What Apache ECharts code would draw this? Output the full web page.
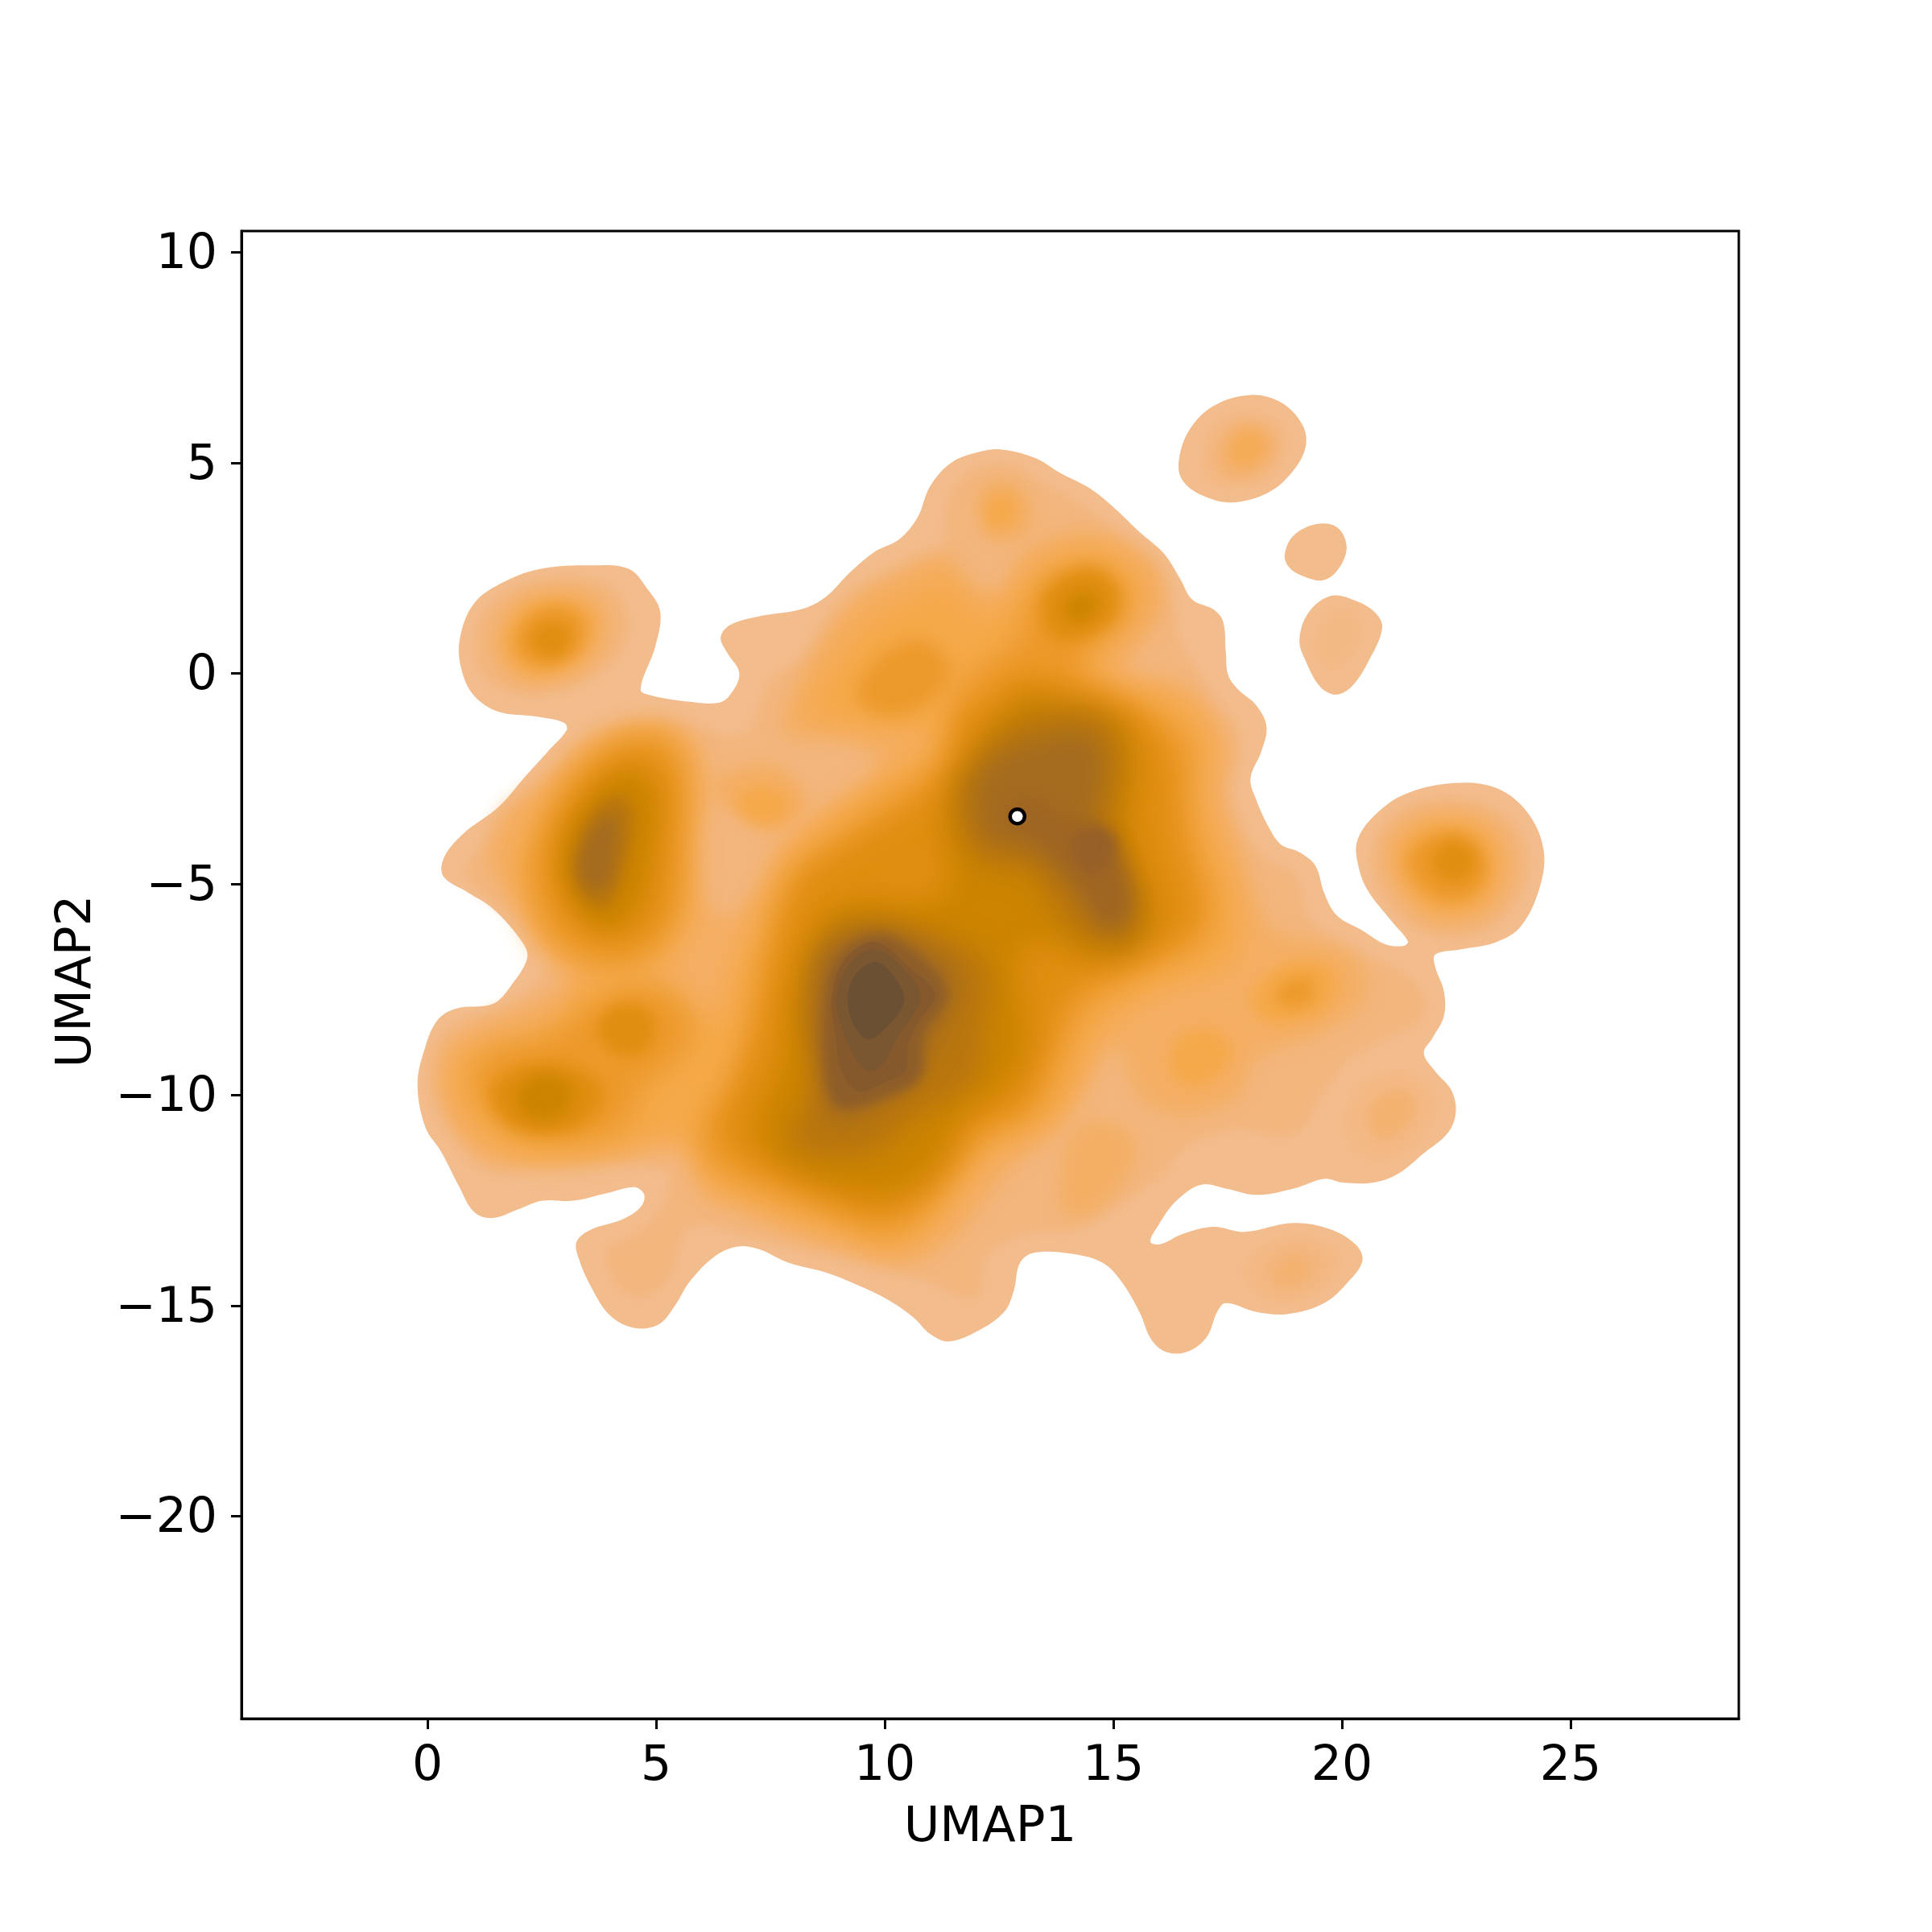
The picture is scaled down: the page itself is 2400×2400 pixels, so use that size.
<!DOCTYPE html>
<html><head><meta charset="utf-8">
<style>html,body{margin:0;background:#fff}#c{width:2400px;height:2400px}</style>
<script src="https://cdn.jsdelivr.net/npm/echarts@6/dist/echarts.min.js"></script>
</head><body><div id="c"></div>
<script>
const xTicks=[0,5,10,15,20,25];
const yTicks=[-20,-15,-10,-5,0,5,10];
const refPoint=[12.90,-3.39];
// density contours, in UMAP units
const outerMain=[[12.53,5.32],[13.28,5.12],[13.87,4.74],[14.49,4.39],[15.03,3.92],[15.57,3.36],[16.11,2.84],[16.46,2.25],[16.73,1.75],[17.19,1.52],[17.40,1.23],[17.46,0.50],[17.51,-0.03],[17.73,-0.38],[18.13,-0.76],[18.35,-1.26],[18.24,-1.84],[18.00,-2.49],[18.13,-3.01],[18.40,-3.65],[18.67,-4.06],[19.07,-4.24],[19.42,-4.56],[19.61,-5.20],[19.88,-5.73],[20.42,-6.08],[20.96,-6.43],[21.36,-6.46],[21.44,-6.35],[21.09,-5.88],[20.55,-5.12],[20.34,-4.47],[20.34,-3.95],[20.69,-3.39],[21.36,-2.87],[22.44,-2.60],[23.38,-2.72],[24.06,-3.30],[24.41,-4.18],[24.33,-5.06],[23.92,-5.99],[23.38,-6.37],[22.58,-6.55],[22.04,-6.67],[22.04,-6.96],[22.23,-7.54],[22.23,-8.13],[21.98,-8.65],[21.79,-9.01],[22.04,-9.44],[22.39,-9.88],[22.49,-10.41],[22.31,-10.91],[21.77,-11.40],[21.23,-11.87],[20.69,-12.08],[20.02,-12.08],[19.61,-11.99],[18.94,-12.22],[18.13,-12.37],[17.46,-12.22],[16.92,-12.13],[16.38,-12.51],[15.98,-13.10],[15.81,-13.48],[16.03,-13.54],[16.51,-13.30],[17.19,-13.13],[17.86,-13.25],[18.94,-13.04],[19.75,-13.19],[20.29,-13.54],[20.45,-13.92],[20.15,-14.42],[19.61,-14.94],[18.80,-15.20],[18.13,-15.15],[17.46,-14.94],[17.27,-15.15],[17.05,-15.73],[16.65,-16.08],[16.19,-16.11],[15.84,-15.82],[15.57,-15.15],[15.17,-14.42],[14.76,-13.98],[14.09,-13.77],[13.28,-13.74],[12.96,-13.98],[12.82,-14.65],[12.61,-15.15],[12.07,-15.58],[11.40,-15.85],[10.99,-15.67],[10.64,-15.29],[10.05,-14.85],[9.38,-14.50],[8.70,-14.21],[7.89,-13.98],[7.22,-13.65],[6.76,-13.60],[6.28,-13.83],[5.74,-14.42],[5.41,-15.00],[5.06,-15.44],[4.53,-15.53],[3.99,-15.23],[3.58,-14.56],[3.31,-13.89],[3.26,-13.48],[3.58,-13.19],[4.26,-12.95],[4.66,-12.66],[4.74,-12.37],[4.53,-12.19],[3.99,-12.31],[3.18,-12.51],[2.51,-12.51],[1.97,-12.72],[1.43,-12.92],[1.02,-12.78],[0.67,-12.13],[0.30,-11.35],[-0.05,-10.76],[-0.22,-9.74],[-0.05,-8.86],[0.22,-8.22],[0.62,-7.95],[1.43,-7.84],[1.83,-7.40],[2.18,-6.75],[2.07,-6.37],[1.43,-5.58],[0.89,-5.20],[0.35,-4.82],[0.35,-4.39],[0.75,-3.83],[1.56,-3.16],[2.10,-2.49],[2.64,-1.84],[3.04,-1.35],[2.99,-1.17],[2.37,-1.02],[1.56,-0.91],[1.02,-0.53],[0.75,0.06],[0.70,0.79],[1.02,1.67],[1.70,2.19],[2.51,2.49],[3.58,2.57],[4.39,2.49],[4.80,2.02],[5.09,1.46],[4.98,0.64],[4.66,-0.38],[4.93,-0.53],[5.74,-0.67],[6.33,-0.70],[6.60,-0.53],[6.82,0.00],[6.55,0.50],[6.41,0.85],[6.60,1.14],[7.22,1.35],[8.16,1.52],[8.70,1.81],[9.24,2.40],[9.78,2.89],[10.32,3.19],[10.72,3.71],[10.99,4.44],[11.45,5.00],[12.07,5.26]];
const outerI=[[16.43,5.03],[16.65,5.76],[17.19,6.35],[18.00,6.61],[18.67,6.43],[19.13,5.91],[19.21,5.41],[18.94,4.82],[18.40,4.30],[17.59,4.06],[16.92,4.24],[16.51,4.59]];
const outerSmall=[[18.75,2.84],[18.94,3.27],[19.42,3.54],[19.88,3.48],[20.10,3.04],[19.96,2.54],[19.61,2.22],[19.15,2.31],[18.83,2.54]];
const outerQ=[[19.07,0.79],[19.26,1.43],[19.75,1.84],[20.29,1.73],[20.74,1.43],[20.88,1.08],[20.61,0.35],[20.23,-0.29],[19.88,-0.50],[19.53,-0.32],[19.21,0.29]];
const l1Main=[[11.40,4.15],[11.93,4.82],[12.74,4.94],[13.55,4.44],[14.36,3.95],[15.03,3.36],[15.84,2.54],[16.24,1.67],[16.46,0.79],[16.84,0.06],[17.19,-0.67],[17.67,-1.26],[17.73,-1.90],[17.46,-2.72],[17.73,-3.60],[18.26,-4.33],[18.99,-4.82],[19.26,-5.79],[20.02,-6.46],[20.96,-6.90],[21.63,-7.40],[21.77,-8.13],[20.82,-8.71],[20.15,-9.15],[19.61,-9.88],[18.94,-10.91],[17.67,-10.82],[16.57,-11.23],[15.98,-11.93],[14.71,-12.89],[14.04,-13.22],[13.04,-13.30],[12.20,-13.83],[12.01,-14.80],[10.67,-14.33],[8.97,-13.83],[6.82,-13.30],[5.74,-13.13],[5.20,-14.42],[4.47,-14.77],[3.88,-13.77],[4.66,-13.25],[5.20,-12.51],[5.20,-11.78],[2.59,-11.58],[1.35,-11.78],[0.43,-10.58],[0.08,-9.71],[0.35,-8.57],[1.97,-7.69],[2.69,-6.78],[2.16,-5.96],[1.24,-5.26],[0.84,-4.62],[1.97,-3.45],[3.31,-2.13],[4.88,-1.14],[6.92,-1.43],[7.46,-0.23],[8.49,0.53],[10.08,1.67],[11.23,2.95]];
const l1A=[[1.02,0.79],[1.29,1.52],[1.97,2.02],[2.91,2.25],[3.85,2.11],[4.34,1.52],[4.26,0.64],[3.58,-0.09],[2.64,-0.44],[1.70,-0.38],[1.16,0.06]];
const l1H=[[20.69,-4.18],[21.23,-3.30],[22.44,-3.01],[23.65,-3.45],[24.06,-4.47],[23.65,-5.64],[22.58,-6.23],[21.50,-5.94],[20.82,-5.06]];
const l1I=[[16.92,5.03],[17.19,5.91],[18.00,6.20],[18.67,5.91],[18.80,5.32],[18.40,4.59],[17.59,4.44],[17.05,4.59]];
const l1Q=[[19.42,0.79],[19.75,1.43],[20.15,1.52],[20.42,1.08],[20.15,0.35],[19.75,0.12],[19.48,0.35]];
const l1N=[[17.86,-14.12],[18.40,-13.54],[19.21,-13.39],[19.96,-13.83],[19.61,-14.56],[18.80,-14.94],[18.13,-14.71]];
const l1L=[[20.10,-10.47],[20.42,-9.74],[21.36,-9.44],[22.04,-10.03],[21.90,-10.76],[21.09,-11.49],[20.29,-11.35]];
const l2Main=[[7.81,-1.40],[8.16,-0.09],[9.11,1.67],[10.32,2.49],[11.26,2.84],[11.93,2.11],[12.47,1.96],[13.15,2.98],[14.49,3.36],[15.84,2.69],[16.11,1.67],[15.57,0.64],[15.30,0.06],[16.65,-0.38],[17.46,-1.55],[17.46,-3.01],[17.86,-4.47],[18.26,-5.79],[18.67,-6.17],[20.02,-6.52],[20.50,-7.11],[20.42,-7.84],[19.61,-8.51],[18.13,-9.15],[17.73,-10.03],[16.51,-10.47],[15.57,-10.03],[15.03,-8.86],[14.36,-9.74],[13.82,-10.76],[12.88,-11.64],[12.20,-12.51],[11.53,-13.39],[10.45,-13.98],[9.24,-13.68],[7.89,-13.25],[6.73,-12.66],[6.14,-12.51],[5.60,-11.35],[3.58,-11.55],[1.97,-11.55],[0.89,-11.20],[0.30,-9.88],[0.48,-8.86],[1.43,-8.22],[2.51,-7.69],[3.18,-7.11],[2.64,-6.37],[2.10,-5.50],[1.37,-4.56],[1.56,-3.42],[2.59,-2.49],[3.53,-1.52],[4.55,-1.20],[5.74,-1.52],[6.14,-2.72],[5.82,-3.89],[5.87,-5.06],[6.55,-5.79],[7.22,-5.06],[7.70,-4.18],[8.43,-3.45],[9.38,-2.87],[9.91,-2.19],[9.24,-1.61]];
const l2A=[[1.43,0.79],[1.83,1.67],[2.77,2.02],[3.72,1.81],[3.99,1.08],[3.58,0.20],[2.64,-0.23],[1.83,-0.09]];
const l2H=[[20.96,-4.33],[21.36,-3.54],[22.44,-3.25],[23.38,-3.60],[23.73,-4.47],[23.38,-5.50],[22.58,-5.94],[21.63,-5.70]];
const l2I=[[17.19,5.12],[17.46,5.76],[18.00,5.99],[18.53,5.70],[18.53,5.12],[18.00,4.65],[17.46,4.65]];
const l2N=[[18.26,-14.12],[18.67,-13.68],[19.21,-13.60],[19.61,-13.98],[19.21,-14.47],[18.67,-14.62]];
const l15N=[[18.53,-14.18],[18.94,-13.83],[19.34,-14.06],[19.07,-14.47],[18.61,-14.50]];
const l2L=[[20.55,-10.47],[20.82,-10.03],[21.36,-9.88],[21.63,-10.32],[21.23,-10.91],[20.82,-11.05]];
const l2O=[[12.07,3.71],[12.07,4.30],[12.61,4.59],[13.15,4.15],[13.15,3.42],[12.61,3.13],[12.20,3.27]];
const l2M=[[13.82,-12.22],[14.04,-11.05],[14.63,-10.61],[15.44,-11.05],[15.30,-11.93],[14.49,-12.81],[13.95,-12.81]];
const l2P=[[6.28,-2.54],[7.54,-2.16],[8.32,-3.04],[7.70,-3.74],[6.52,-3.16]];
const l2K=[[15.98,-9.01],[16.84,-8.36],[17.59,-8.83],[17.24,-9.80],[16.49,-10.03]];
const l3Main=[[8.32,-0.99],[8.73,0.06],[9.67,1.35],[10.70,1.93],[11.31,2.28],[12.23,1.43],[13.44,2.54],[14.57,2.95],[15.46,2.37],[15.68,1.78],[14.98,0.91],[14.87,-0.12],[16.27,-0.53],[17.11,-1.55],[17.00,-2.84],[17.48,-4.53],[17.75,-5.58],[17.59,-6.84],[15.98,-7.57],[14.71,-8.51],[14.12,-9.94],[13.44,-10.76],[12.28,-11.37],[11.77,-12.02],[11.13,-12.98],[10.24,-13.68],[8.89,-13.22],[7.54,-12.75],[6.01,-11.93],[5.74,-11.08],[5.01,-11.05],[3.50,-11.46],[1.89,-11.46],[0.81,-10.44],[0.54,-9.56],[0.81,-9.01],[1.97,-8.68],[3.04,-8.04],[3.31,-7.40],[4.12,-7.11],[5.20,-7.40],[6.28,-8.22],[6.63,-7.11],[7.09,-5.96],[7.54,-5.03],[7.79,-4.39],[8.89,-3.25],[10.29,-2.16],[11.07,-1.58],[9.67,-1.32]];
const l3B=[[1.97,-4.33],[2.77,-2.72],[3.99,-1.55],[5.20,-1.32],[5.79,-2.28],[5.82,-4.04],[5.74,-5.79],[5.06,-6.96],[3.99,-7.25],[2.64,-6.67],[2.10,-5.50]];
const l3A=[[1.70,0.79],[2.10,1.52],[2.77,1.75],[3.53,1.52],[3.64,0.94],[3.18,0.26],[2.51,-0.03],[1.91,0.20]];
const l3H=[[21.23,-4.33],[21.63,-3.74],[22.44,-3.54],[23.19,-3.89],[23.38,-4.62],[23.11,-5.35],[22.44,-5.64],[21.77,-5.44],[21.36,-4.91]];
const l3I=[[17.54,5.32],[17.81,5.76],[18.18,5.70],[18.35,5.32],[18.00,4.94],[17.65,4.94]];
const l3O=[[12.20,3.77],[12.42,4.21],[12.74,4.21],[12.88,3.77],[12.61,3.48],[12.34,3.48]];
const l3J=[[18.00,-7.69],[18.40,-7.11],[19.21,-6.81],[19.88,-7.11],[19.75,-7.84],[18.94,-8.27],[18.26,-8.22]];
const l3K=[[16.24,-9.15],[16.46,-8.62],[17.19,-8.45],[17.59,-8.92],[17.32,-9.50],[16.78,-9.80],[16.38,-9.62]];
const l3P=[[6.76,-3.01],[7.30,-2.66],[7.89,-2.95],[7.76,-3.45],[7.14,-3.54]];
const l4Main=[[11.45,-0.82],[11.93,0.06],[12.74,0.64],[13.42,2.11],[14.36,2.54],[15.22,2.11],[15.22,1.23],[14.36,0.50],[14.36,-0.09],[15.57,-0.82],[16.65,-1.70],[16.65,-3.01],[16.92,-4.47],[17.19,-5.50],[16.92,-6.37],[15.57,-7.11],[14.36,-7.98],[13.82,-9.15],[13.28,-10.32],[12.20,-11.05],[11.53,-11.93],[10.72,-12.95],[9.91,-13.25],[8.70,-12.81],[7.35,-12.22],[6.22,-11.64],[6.01,-10.76],[6.55,-9.74],[6.95,-8.57],[7.27,-7.11],[7.89,-4.91],[8.97,-3.89],[10.45,-2.72],[11.18,-2.13],[11.53,-1.26]];
const l4G=[[9.38,-0.53],[9.91,0.44],[10.86,0.79],[11.45,0.06],[10.91,-0.73],[10.05,-1.02]];
const l4B=[[2.29,-4.33],[3.04,-2.72],[4.26,-1.61],[5.33,-1.70],[5.55,-3.89],[5.41,-5.79],[4.66,-6.75],[3.58,-6.87],[2.64,-6.08],[2.32,-5.20]];
const l4C=[[1.02,-9.74],[1.29,-9.01],[2.64,-8.57],[3.58,-7.84],[4.80,-7.40],[5.74,-8.13],[5.60,-9.01],[4.66,-9.88],[4.26,-10.76],[3.18,-11.05],[1.97,-10.76],[1.29,-10.32]];
const l4A=[[1.91,0.79],[2.29,1.43],[2.91,1.61],[3.39,1.32],[3.37,0.64],[2.72,0.20],[2.13,0.32]];
const l4H=[[21.44,-4.39],[21.98,-3.83],[22.65,-3.80],[23.14,-4.33],[23.06,-5.06],[22.44,-5.41],[21.77,-5.12]];
const l4J=[[18.53,-7.63],[18.88,-7.25],[19.34,-7.25],[19.34,-7.75],[18.80,-7.92]];
const l5Main=[[12.20,-0.67],[13.01,-0.03],[14.36,-0.38],[15.71,-1.11],[16.24,-2.13],[16.38,-3.89],[16.78,-5.50],[16.51,-6.23],[15.44,-6.81],[14.09,-7.54],[13.55,-8.86],[13.01,-10.18],[11.93,-10.76],[11.40,-11.64],[10.59,-12.51],[9.78,-12.81],[8.70,-12.37],[7.09,-11.64],[6.41,-10.91],[6.82,-9.74],[7.30,-8.27],[7.49,-7.11],[8.16,-4.91],[9.24,-4.04],[10.72,-3.01],[11.40,-2.13],[11.66,-0.96]];
const l5F=[[13.42,1.67],[13.82,2.25],[14.49,2.49],[15.03,2.11],[15.03,1.37],[14.36,0.85],[13.69,0.85]];
const l5B=[[2.64,-4.33],[3.31,-2.72],[4.45,-1.84],[5.33,-2.28],[5.33,-4.18],[5.06,-5.79],[4.26,-6.46],[3.18,-6.08],[2.77,-5.35]];
const l5Ca=[[1.37,-9.88],[2.10,-9.30],[3.18,-9.30],[3.85,-9.88],[3.45,-10.67],[2.51,-10.96],[1.70,-10.67]];
const l5Cb=[[3.72,-8.33],[4.26,-7.84],[4.93,-8.13],[4.80,-8.92],[4.07,-9.01]];
const l5A=[[2.24,0.85],[2.64,1.23],[3.10,1.05],[2.99,0.50],[2.51,0.44]];
const l5H=[[21.96,-4.39],[22.44,-3.95],[22.93,-4.39],[22.66,-4.91],[22.17,-4.85]];
const l6Main=[[13.04,-0.53],[14.25,-1.05],[15.27,-1.32],[15.46,-2.40],[15.38,-3.68],[15.68,-4.97],[15.84,-5.99],[14.71,-6.75],[13.47,-6.37],[12.88,-6.81],[13.12,-8.83],[12.61,-9.80],[11.77,-10.44],[11.13,-11.64],[10.24,-12.34],[8.89,-12.19],[7.54,-11.46],[7.17,-10.82],[7.81,-9.01],[7.89,-7.81],[8.43,-6.23],[8.70,-5.73],[9.51,-5.35],[10.59,-5.50],[11.40,-5.06],[11.31,-3.68],[11.75,-2.40]];
const l6B=[[2.91,-4.18],[3.45,-3.01],[4.39,-2.28],[4.98,-2.87],[4.88,-4.47],[4.53,-5.64],[3.85,-6.08],[3.10,-5.35]];
const l6C=[[1.91,-9.97],[2.51,-9.50],[3.18,-9.80],[2.99,-10.47],[2.24,-10.56]];
const l6F=[[13.95,1.67],[14.36,1.96],[14.68,1.67],[14.36,1.23],[14.01,1.29]];
const l7E=[[13.15,-0.96],[14.76,-0.96],[15.22,-1.99],[15.03,-3.30],[15.30,-4.47],[15.65,-5.50],[15.38,-6.46],[14.49,-6.37],[13.82,-5.79],[13.15,-4.77],[12.07,-4.47],[11.53,-3.01],[12.07,-1.84]];
const l7B=[[3.18,-4.47],[3.58,-3.30],[4.20,-2.87],[4.50,-3.36],[4.31,-4.62],[3.91,-5.58],[3.37,-5.29]];
const l7D=[[8.43,-7.02],[8.70,-6.29],[9.32,-5.91],[10.67,-6.05],[12.02,-6.61],[12.34,-7.40],[12.20,-8.22],[12.02,-9.56],[10.67,-10.58],[9.78,-11.37],[8.43,-11.46],[7.89,-11.05],[8.43,-9.80],[8.30,-8.22]];
const l8E=[[13.50,-1.55],[14.49,-1.49],[14.76,-2.43],[14.57,-3.45],[14.98,-4.47],[15.30,-5.58],[14.90,-6.08],[14.22,-5.20],[13.28,-4.24],[12.20,-3.89],[11.99,-2.72],[12.47,-1.99]];
const l8B=[[3.31,-4.47],[3.64,-3.65],[4.09,-3.36],[4.12,-4.18],[3.91,-5.06],[3.48,-5.06]];
const l8D=[[8.62,-6.61],[9.78,-6.05],[11.13,-6.61],[11.58,-7.40],[10.94,-9.01],[10.24,-9.94],[8.89,-10.58],[8.51,-9.01],[8.43,-7.81]];
const l85E=[[12.55,-3.45],[13.01,-2.87],[13.82,-3.30],[14.36,-3.65],[15.03,-4.18],[15.30,-5.64],[14.84,-5.94],[14.22,-4.91],[13.42,-4.04]];
const l88E=[[14.09,-4.04],[14.36,-3.65],[14.90,-3.74],[15.03,-4.18],[14.68,-4.71],[14.30,-4.62]];
const l9D=[[8.65,-8.22],[8.94,-6.78],[9.83,-6.20],[10.72,-6.67],[11.37,-7.60],[10.86,-8.57],[10.78,-9.59],[10.02,-10.06],[9.13,-10.32],[8.78,-10.0]];
const l95D=[[8.84,-7.69],[9.11,-6.81],[9.78,-6.37],[10.53,-6.96],[11.10,-7.63],[10.72,-8.27],[10.51,-8.83],[10.45,-9.42],[9.91,-9.74],[9.43,-9.91],[9.05,-9.44],[8.92,-8.57]];
const l10D=[[8.94,-7.69],[9.24,-6.87],[9.78,-6.55],[10.37,-6.96],[10.78,-7.69],[10.32,-8.57],[9.94,-9.30],[9.62,-9.42],[9.29,-9.01],[9.02,-8.27]];
const l11D=[[9.19,-7.69],[9.38,-7.11],[9.83,-6.84],[10.24,-7.25],[10.43,-7.75],[10.10,-8.33],[9.64,-8.68],[9.32,-8.33]];

const levelColors=['#f2bc8d','#f3b985','#f3b67d','#f4b271','#f4af65','#f5ac58','#f6a94a','#ec9a2c','#df8e10','#cd8400','#b8760f','#a56c20','#9f6624','#966028','#8e5e2a','#86592c','#7a5730','#6b5034'];
const levelBlur=[0,12,14,14,22,14,34,34,34,34,34,30,24,16,14,0,0,0];
const levelPolys=[
 [outerMain,outerI,outerSmall,outerQ],
 [l1I,l1Q,l1N,l1L],
 [l1Main,l1A,l1H,l2N],
 [l2I,l2L,l15N],
 [l2Main,l2A,l2H,l2P,l2K,l2M,l2O],
 [l3I],
 [l3Main,l3B,l3A,l3H,l3J,l3K,l3P,l3O],
 [l4Main,l4G,l4B,l4C,l4A,l4H,l4J],
 [l5Main,l5F,l5B,l5Ca,l5Cb,l5A,l5H],
 [l6Main,l6B,l6C,l6F],
 [l7E,l7B,l7D],
 [l8E,l8B,l8D],
 [l85E],
 [l88E],
 [l9D],
 [l95D],
 [l10D],
 [l11D]
];
const flat=[];
levelPolys.forEach((ps,lv)=>ps.forEach(p=>flat.push({lv,p})));
const OFF=6000;
const chart=echarts.init(document.getElementById('c'),null,{renderer:'canvas'});
const F='"DejaVu Sans"';
const minus=v=>String(v).replace('-','\u2212');
chart.setOption({
 animation:false,
 backgroundColor:'#fff',
 grid:{left:300,right:240,top:287,bottom:265,show:true,borderColor:'#000',borderWidth:3,backgroundColor:'transparent'},
 xAxis:{type:'value',min:-4.07,max:28.68,name:'UMAP1',nameLocation:'middle',nameGap:106,
  nameTextStyle:{fontFamily:F,fontSize:61,color:'#000'},splitLine:{show:false},
  axisLine:{show:true,onZero:false,lineStyle:{color:'#000',width:3}},
  axisTick:{show:true,length:13,customValues:xTicks,lineStyle:{color:'#000',width:3}},
  axisLabel:{show:true,margin:30,customValues:xTicks,fontFamily:F,fontSize:60,color:'#000',formatter:minus}},
 yAxis:{type:'value',min:-24.8,max:10.5,name:'UMAP2',nameLocation:'middle',nameGap:173,
  nameTextStyle:{fontFamily:F,fontSize:61,color:'#000',padding:[0,16,0,0]},splitLine:{show:false},
  axisLine:{show:true,onZero:false,lineStyle:{color:'#000',width:3}},
  axisTick:{show:true,length:13,customValues:yTicks,lineStyle:{color:'#000',width:3}},
  axisLabel:{show:true,margin:30,customValues:yTicks,fontFamily:F,fontSize:60,color:'#000',
   formatter:v=>'{a|'+minus(v)+'}',rich:{a:{fontFamily:F,fontSize:60,color:'#000',padding:[8,0,0,0]}}}},
 series:[
  {type:'custom',coordinateSystem:'cartesian2d',silent:true,clip:false,z:2,
   encode:{x:0,y:1},
   data:flat.map((f,i)=>[f.p[0][0],f.p[0][1],i]),
   renderItem(params,api){
    const f=flat[api.value(2)];
    const color=levelColors[f.lv];
    const raw=f.p.map(q=>api.coord(q));
    const xs=raw.map(c=>c[0]),ys=raw.map(c=>c[1]);
    const extent=Math.min(Math.max(...xs)-Math.min(...xs),Math.max(...ys)-Math.min(...ys));
    const blur=levelBlur[f.lv]>0?Math.min(levelBlur[f.lv],Math.max(18,extent*0.22)):0;
    const shift=blur>0?OFF:0;
    const points=raw.map(c=>[c[0]-shift,c[1]]);
    const style={fill:color};
    if(blur>0){style.shadowColor=color;style.shadowBlur=blur;style.shadowOffsetX=OFF;style.shadowOffsetY=0;}
    return {type:'polygon',shape:{points,smooth:0.36},style};
   }},
  {type:'scatter',z:5,silent:true,data:[refPoint],symbol:'circle',symbolSize:18,
   itemStyle:{color:'#fff',borderColor:'#000',borderWidth:4.5,opacity:1}}
 ]
});
</script></body></html>
